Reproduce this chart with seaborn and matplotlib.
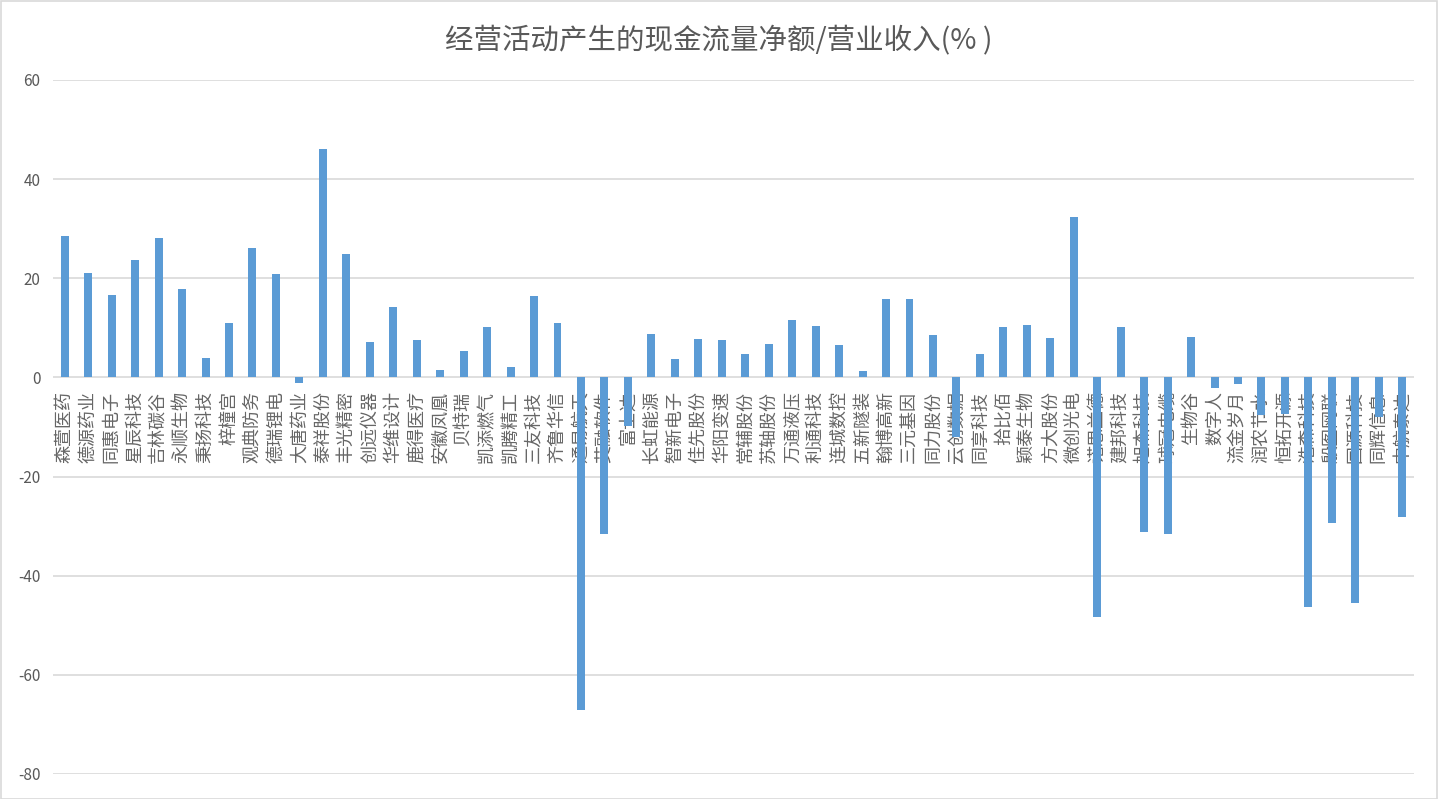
import matplotlib
matplotlib.use("Agg")
import matplotlib.pyplot as plt
import seaborn as sns
import pandas as pd
from matplotlib.patches import Rectangle

categories = [
    "森萱医药", "德源药业", "同惠电子", "星辰科技", "吉林碳谷", "永顺生物", "秉扬科技", "梓橦宫",
    "观典防务", "德瑞锂电", "大唐药业", "泰祥股份", "丰光精密", "创远仪器", "华维设计", "鹿得医疗",
    "安徽凤凰", "贝特瑞", "凯添燃气", "凯腾精工", "三友科技", "齐鲁华信", "通易航天", "艾融软件",
    "富士达", "长虹能源", "智新电子", "佳先股份", "华阳变速", "常辅股份", "苏轴股份", "万通液压",
    "利通科技", "连城数控", "五新隧装", "翰博高新", "三元基因", "同力股份", "云创数据", "同享科技",
    "拾比佰", "颖泰生物", "方大股份", "微创光电", "诺思兰德", "建邦科技", "旭杰科技", "球冠电缆",
    "生物谷", "数字人", "流金岁月", "润农节水", "恒拓开源", "浩森科技", "殷图网联", "国源科技",
    "同辉信息", "中航泰达",
]
values = [
    28.5, 21.0, 16.7, 23.6, 28.1, 17.9, 4.0, 10.9,
    26.2, 20.8, -1.2, 46.1, 25.0, 7.2, 14.3, 7.6,
    1.4, 5.4, 10.2, 2.2, 16.5, 10.9, -67.1, -31.5,
    -9.8, 8.8, 3.7, 7.8, 7.6, 4.7, 6.8, 11.6,
    10.4, 6.6, 1.3, 15.9, 15.9, 8.6, -12.0, 4.7,
    10.2, 10.6, 8.0, 32.3, -48.3, 10.2, -31.1, -31.5,
    8.2, -2.2, -1.3, -7.6, -7.4, -46.3, -29.3, -45.6,
    -8.0, -28.2,
]
title = "经营活动产生的现金流量净额/营业收入(% )"
yticks = [60, 40, 20, 0, -20, -40, -60, -80]

df = pd.DataFrame({"name": categories, "value": values})

sns.set_theme(style="white")
plt.rcParams["font.family"] = ["Noto Sans CJK SC", "DejaVu Sans"]

W, H = 1438, 799
fig = plt.figure(figsize=(W / 100, H / 100), dpi=100)
ax = fig.add_axes([53 / W, 1 - 774 / H, (1414 - 53) / W, (774 - 80) / H])

sns.barplot(data=df, x="name", y="value", color="#5B9BD5", saturation=1,
            width=0.34, ax=ax, zorder=3, linewidth=0)

ax.set_ylim(-80, 60)
ax.set_xlim(-0.5, len(categories) - 0.5)
ax.set_yticks(yticks)
ax.set_yticklabels([str(t) for t in yticks], color="#595959", fontsize=11)
ax.tick_params(axis="y", length=0, pad=9)
ax.set_xticks([])
ax.set_xlabel("")
ax.set_ylabel("")
for s in ax.spines.values():
    s.set_visible(False)
for t in yticks:
    ax.axhline(t, color="#D9D9D9", lw=1.2, zorder=1)
ax.set_facecolor("none")

for i, name in enumerate(categories):
    ax.annotate(name, xy=(i, 0), xytext=(0, -10), textcoords="offset points",
                rotation=90, ha="center", va="top", fontsize=13, color="#666666",
                zorder=2, annotation_clip=False)

fig.text(0.5, 1 - 40 / H, title, ha="center", va="center", fontsize=20.5, color="#595959")

fig.patches.append(Rectangle((0.5 / W, 0.5 / H), 1 - 1.5 / W, 1 - 1.5 / H,
                             transform=fig.transFigure, fill=False,
                             edgecolor="#D9D9D9", lw=1.2))

fig.savefig("out.png", dpi=100)
